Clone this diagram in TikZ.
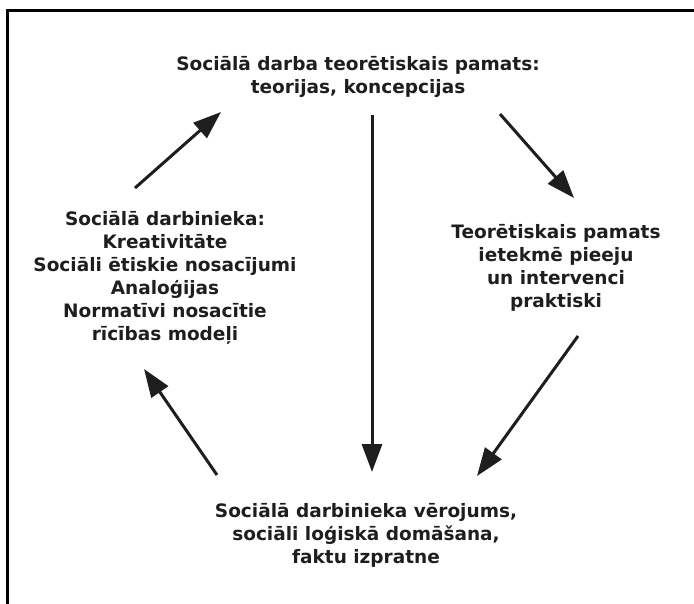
\documentclass[tikz,border=0pt]{standalone}
\usepackage{fontspec}
\setmainfont{DejaVu Sans}
\usetikzlibrary{arrows.meta}
\definecolor{ink}{HTML}{1E1E1E}
\begin{document}
\begin{tikzpicture}[x=1pt,y=-1pt,
  txt/.style={font=\bfseries\fontsize{18.5}{23}\selectfont, text=ink, align=center, inner sep=0pt},
  arr/.style={draw=ink, line width=3pt, -{Triangle[length=28pt,width=20pt]}},
  frame/.style={draw=black, line width=3pt}]
\useasboundingbox (0,0) rectangle (694,604);
\draw[frame] (7,604) -- (7,11) -- (694,11);
\node[txt] (top) at (358,77) {Sociālā darba teorētiskais pamats:\\teorijas, koncepcijas};
\node[txt] (left) at (165,278) {Sociālā darbinieka:\\Kreativitāte\\Sociāli ētiskie nosacījumi\\Analoģijas\\Normatīvi nosacītie\\rīcības modeļi};
\node[txt] (right) at (556,268) {Teorētiskais pamats\\ietekmē pieeju\\un intervenci\\praktiski};
\node[txt] (bottom) at (366,535) {Sociālā darbinieka vērojums,\\sociāli loģiskā domāšana,\\faktu izpratne};
\coordinate (a1s) at (135,188); \coordinate (a1e) at (221,112);
\coordinate (a2s) at (372,115); \coordinate (a2e) at (372,472);
\coordinate (a3s) at (500,114); \coordinate (a3e) at (574,198);
\coordinate (a4s) at (578,336); \coordinate (a4e) at (477,476);
\coordinate (a5s) at (217,475); \coordinate (a5e) at (144,369);
\draw[arr] (a1s) -- (a1e);
\draw[arr] (a2s) -- (a2e);
\draw[arr] (a3s) -- (a3e);
\draw[arr] (a4s) -- (a4e);
\draw[arr] (a5s) -- (a5e);
\end{tikzpicture}
\end{document}
